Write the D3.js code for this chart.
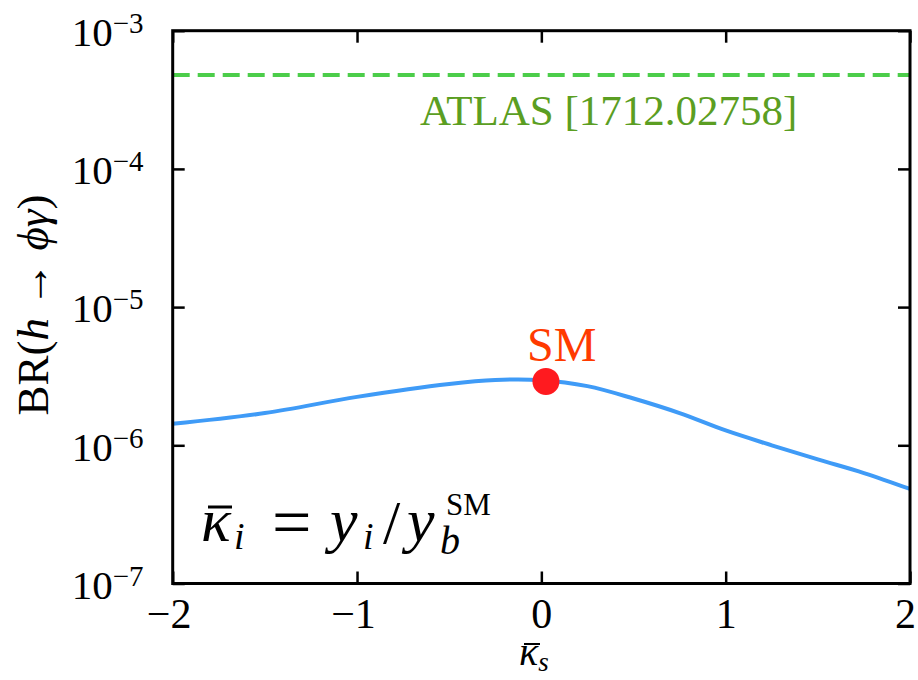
<!DOCTYPE html>
<html><head><meta charset="utf-8">
<script src="https://cdn.jsdelivr.net/npm/d3@7"></script>
<style>
html,body{margin:0;padding:0;background:#fff;}
svg text{font-family:"Liberation Serif","DejaVu Serif",serif;}
</style></head>
<body>
<svg id="chart" width="918" height="680"></svg>
<script>
// ---- data ----
const kappaS = [-2, -1.5, -1, -0.5, -0.25, 0, 0.25, 0.5, 0.75, 1, 1.25, 1.5, 1.75, 2];
const brValues = [1.43e-6, 1.71e-6, 2.24e-6, 2.78e-6, 2.97e-6, 2.96e-6, 2.68e-6, 2.18e-6, 1.71e-6, 1.28e-6, 1.0e-6, 7.9e-7, 6.3e-7, 4.83e-7];
const atlasLimit = 4.79e-4;
const smPoint = {k: 0.025, br: 2.90e-6};
const xTicks = [-2, -1, 0, 1, 2];
const yTickExps = [-3, -4, -5, -6, -7];

// ---- layout ----
const L = 172.7, R = 910, T = 30.7, B = 583.5;
const svg = d3.select("#chart");
const x = d3.scaleLinear().domain([-2, 2]).range([L, R]);
const y = d3.scaleLog().domain([1e-7, 1e-3]).range([B, T]);

// green dashed ATLAS limit
svg.append("line")
  .attr("x1", x(-2)).attr("x2", x(2))
  .attr("y1", y(atlasLimit)).attr("y2", y(atlasLimit))
  .attr("stroke", "#4ccd4a").attr("stroke-width", 4)
  .attr("stroke-dasharray", "17 8");
svg.append("text").attr("x", 420).attr("y", 125)
  .attr("font-size", 43).attr("fill", "#5b9e22")
  .text("ATLAS [1712.02758]");

// blue curve
const pts = kappaS.map((k, i) => [k, brValues[i]]);
svg.append("path").datum(pts)
  .attr("fill", "none").attr("stroke", "#3f9bf7").attr("stroke-width", 4)
  .attr("d", d3.line().x(d => x(d[0])).y(d => y(d[1])).curve(d3.curveCatmullRom.alpha(0.5)));

// SM point
svg.append("circle").attr("cx", x(smPoint.k)).attr("cy", y(smPoint.br)).attr("r", 13.5)
  .attr("fill", "#ff1a1f");
svg.append("text").attr("x", x(smPoint.k) - 19).attr("y", 361)
  .attr("font-size", 48).attr("fill", "#ff3a00").text("SM");

// axes
const tickLen = 12;
const gx = svg.append("g").attr("transform", `translate(0,${B})`)
  .call(d3.axisBottom(x).tickValues(xTicks).tickSize(-tickLen).tickPadding(15)
    .tickFormat(d => d < 0 ? "\u2212" + Math.abs(d) : String(d)));
gx.selectAll("text").attr("font-size", 42).attr("fill", "#000").attr("dy", "0.71em")
  .attr("font-family", "Liberation Serif")
  .attr("dx", d => d === 2 ? -5 : (d < 0 ? -4 : 0));
const gxt = svg.append("g").attr("transform", `translate(0,${T})`)
  .call(d3.axisTop(x).tickValues(xTicks).tickSize(-tickLen).tickFormat(""));

const gy = svg.append("g").attr("transform", `translate(${L},0)`)
  .call(d3.axisLeft(y).tickValues(yTickExps.map(e => Math.pow(10, e))).tickSize(-tickLen).tickPadding(60)
    .tickFormat(""));
gy.selectAll(".tick").each(function(d) {
  const e = Math.round(Math.log10(d));
  const t = d3.select(this).append("text").attr("x", -101).attr("y", 0)
    .attr("dy", "0.36em").attr("font-size", 41).attr("fill", "#000")
    .attr("text-anchor", "start").attr("font-family", "Liberation Serif");
  t.append("tspan").text("10");
  t.append("tspan").attr("dy", "-0.45em").attr("font-size", 29).text("\u2212" + Math.abs(e));
});
const gyr = svg.append("g").attr("transform", `translate(${R},0)`)
  .call(d3.axisRight(y).tickValues(yTickExps.map(e => Math.pow(10, e))).tickSize(-tickLen).tickFormat(""));

[gx, gxt, gy, gyr].forEach(g => {
  g.select(".domain").remove();
  g.selectAll(".tick line").attr("stroke", "#000").attr("stroke-width", 2.5);
});
svg.append("rect").attr("x", L).attr("y", T).attr("width", R - L).attr("height", B - T)
  .attr("fill", "none").attr("stroke", "#000").attr("stroke-width", 3);

// axis labels
const yl = svg.append("text").attr("transform", `translate(48,305) rotate(-90)`)
  .attr("text-anchor", "middle").attr("font-size", 45).attr("fill", "#000");
yl.append("tspan").text("BR(");
yl.append("tspan").attr("font-style", "italic").text("h");
yl.append("tspan").text(" \u2192 ");
yl.append("tspan").attr("font-style", "italic").text("\u03d5\u03b3");
yl.append("tspan").text(")");

// x label: kappa-bar with subscript s
const xl = svg.append("text").attr("x", 519).attr("y", 665).attr("font-size", 40).attr("fill", "#000");
xl.append("tspan").attr("font-style", "italic").text("\u03ba");
xl.append("tspan").attr("font-style", "italic").attr("font-size", 27).attr("dy", 6).text("s");
svg.append("line").attr("x1", 524).attr("x2", 540).attr("y1", 644).attr("y2", 644)
  .attr("stroke", "#000").attr("stroke-width", 2);

// annotation: kappa-bar_i = y_i / y_b^SM
const an = svg.append("g").attr("fill", "#000");
const piece = (xx, yy, txt, size, italic) => an.append("text").attr("x", xx).attr("y", yy)
  .attr("font-size", size).attr("font-style", italic ? "italic" : "normal").text(txt);
piece(201, 541, "\u03ba", 62, true);
an.append("line").attr("x1", 208).attr("x2", 232).attr("y1", 507).attr("y2", 507)
  .attr("stroke", "#000").attr("stroke-width", 3);
piece(234, 549, "i", 38, true);
piece(272, 546, "=", 70, false);
piece(330, 541, "y", 62, true);
piece(363, 549, "i", 38, true);
piece(383, 543, "/", 62, false);
piece(407, 541, "y", 62, true);
piece(440, 554, "b", 40, true);
piece(446, 515, "SM", 31, false);
</script>
</body></html>
